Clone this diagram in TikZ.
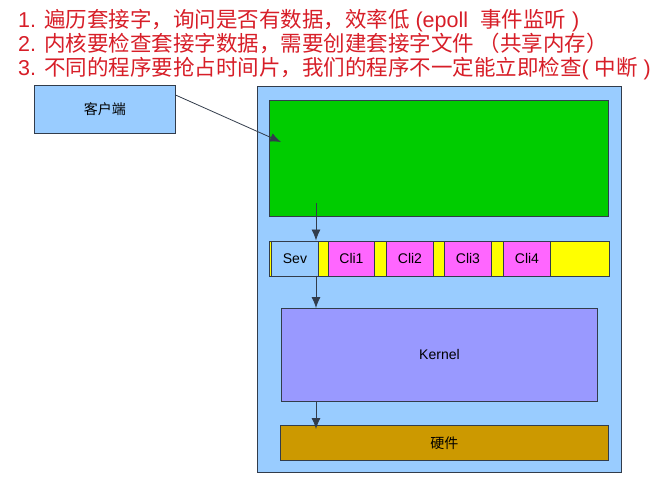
\documentclass[tikz,border=0pt]{standalone}
\usepackage{fontspec}
\setmainfont{Liberation Sans}
\newfontfamily\cjk{Noto Sans CJK SC}
\usetikzlibrary{arrows.meta,calc}
\definecolor{skyb}{RGB}{153,204,255}
\definecolor{grn}{RGB}{0,204,0}
\definecolor{yel}{RGB}{255,255,0}
\definecolor{mag}{RGB}{255,102,255}
\definecolor{kern}{RGB}{153,153,255}
\definecolor{hw}{RGB}{204,153,0}
\definecolor{edge}{RGB}{50,60,75}
\definecolor{redtxt}{RGB}{215,30,40}
\begin{document}
\begin{tikzpicture}[x=1pt,y=-1pt,
  box/.style={draw=edge,line width=0.9pt,inner sep=0pt,anchor=north west,font=\fontsize{14}{16}\selectfont},
  arr/.style={draw=edge,line width=0.8pt,-{Latex[length=11pt,width=9pt]}},
  note/.style={anchor=base west,inner sep=0pt,text=redtxt,font=\fontsize{21.5}{24}\selectfont}]
\useasboundingbox (0,0) rectangle (652,476);
% notes
\node[note] (n1) at (18,28) {1. {\cjk 遍历套接字，询问是否有数据，效率低} (epoll\ \ {\cjk 事件监听} )};
\node[note] (n2) at (18,52) {2. {\cjk 内核要检查套接字数据，需要创建套接字文件 （共享内存）}};
\node[note] (n3) at (18,76) {3. {\cjk 不同的程序要抢占时间片，我们的程序不一定能立即检查}( {\cjk 中断} )};
% client
\node[box,fill=skyb,minimum width=141pt,minimum height=48pt] (client) at (34,85) {\cjk 客户端};
% outer
\node[box,fill=skyb,minimum width=364pt,minimum height=386pt] (outer) at (257,86) {};
\node[box,fill=grn,minimum width=339pt,minimum height=116pt] (green) at (269,100) {};
\node[box,fill=yel,minimum width=340pt,minimum height=35pt] (bar) at (268.5,240.5) {};
\node[box,fill=skyb,minimum width=47pt,minimum height=35pt] (sev) at (271,240.5) {Sev};
\node[box,fill=mag,minimum width=46pt,minimum height=35pt] (c1) at (328,240.5) {Cli1};
\node[box,fill=mag,minimum width=47pt,minimum height=35pt] (c2) at (386,240.5) {Cli2};
\node[box,fill=mag,minimum width=47pt,minimum height=35pt] (c3) at (444,240.5) {Cli3};
\node[box,fill=mag,minimum width=47pt,minimum height=35pt] (c4) at (503,240.5) {Cli4};
\node[box,fill=kern,minimum width=316pt,minimum height=93pt] (kernel) at (281,308) {Kernel};
\node[box,fill=hw,minimum width=328pt,minimum height=35pt] (hard) at (280,425) {\cjk 硬件};
% connectors
\coordinate (cstart) at (175.5,95);
\coordinate (gin) at (281,142);
\coordinate (gout) at (316,203);
\draw[arr] (cstart) -- (gin);
\draw[arr] (gout) -- (gout |- bar.north);
\draw[arr] (316,275.5) -- (316,308);
\draw[arr] (316,401) -- (316,429);
\end{tikzpicture}
\end{document}
